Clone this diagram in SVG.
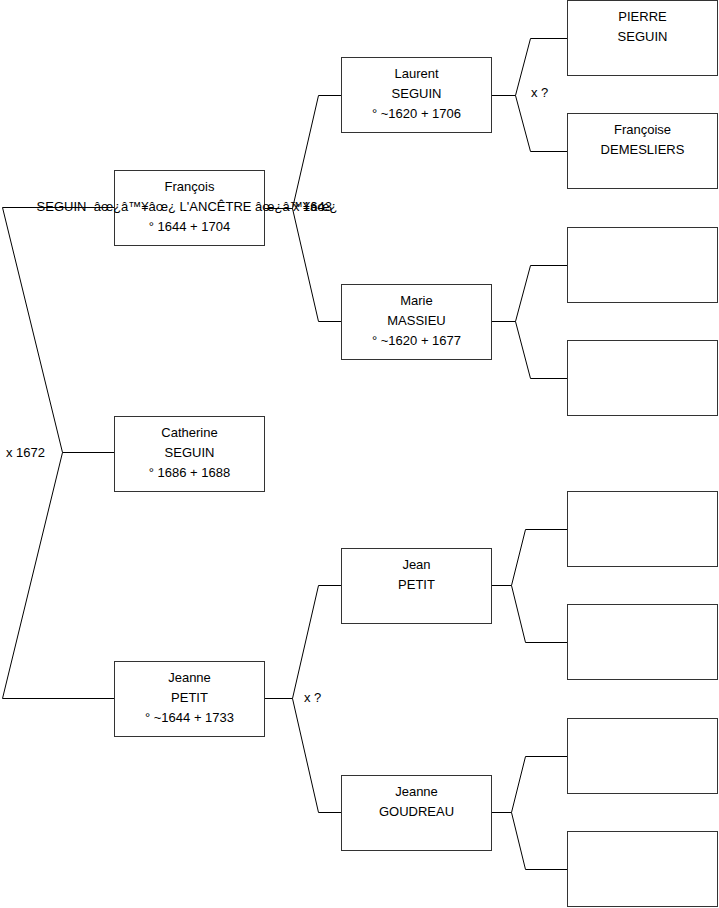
<svg xmlns="http://www.w3.org/2000/svg" width="719" height="908" viewBox="0 0 719 908">
<style>
.box{fill:#fff;stroke:#333;stroke-width:1}
.ln{fill:none;stroke:#000;stroke-width:1}
text{font-family:"Liberation Sans",Arial,sans-serif;font-size:13px;fill:#000;white-space:pre}
.c{text-anchor:middle}
</style>
<rect width="719" height="908" fill="#fff"/>
<g id="connectors">
<polyline class="ln" points="114,207.5 2.5,207.5 62.5,452.5 2.5,698.5 114,698.5"/>
<line class="ln" x1="62.5" y1="452.5" x2="114" y2="452.5"/>
<polyline class="ln" points="341,95.5 318.5,95.5 292.5,208.5 318.5,321.5 341,321.5"/>
<line class="ln" x1="265" y1="208.5" x2="292.5" y2="208.5"/>
<polyline class="ln" points="567,38.5 530.5,38.5 515.5,95.5 530.5,151.5 567,151.5"/>
<line class="ln" x1="491" y1="95.5" x2="515.5" y2="95.5"/>
<polyline class="ln" points="567,265.5 530.5,265.5 515.5,321.5 530.5,378.5 567,378.5"/>
<line class="ln" x1="491" y1="321.5" x2="515.5" y2="321.5"/>
<polyline class="ln" points="567,529.5 525.5,529.5 511.5,585.5 525.5,642.5 567,642.5"/>
<line class="ln" x1="491" y1="585.5" x2="511.5" y2="585.5"/>
<polyline class="ln" points="567,756.5 525.5,756.5 511.5,812.5 525.5,869.5 567,869.5"/>
<line class="ln" x1="491" y1="812.5" x2="511.5" y2="812.5"/>
<polyline class="ln" points="341,585.5 318.5,585.5 292.5,698.5 318.5,812.5 341,812.5"/>
<line class="ln" x1="265" y1="698.5" x2="292.5" y2="698.5"/>
</g>
<g id="labels">
<text x="6" y="457">x 1672</text>
<text x="293" y="211">x 1643</text>
<text x="531" y="97">x ?</text>
<text x="304" y="702">x ?</text>
</g>
<g id="francois">
<rect class="box" x="114.5" y="170.5" width="150" height="75"/>
<text class="c" x="189.5" y="191">François</text>
<text class="c" x="187" y="211" xml:space="preserve">SEGUIN  âœ¿â™¥âœ¿ L'ANCÊTRE âœ¿â™¥âœ¿</text>
<text class="c" x="189.5" y="231">° 1644 + 1704</text>
</g>
<g id="catherine">
<rect class="box" x="114.5" y="416.5" width="150" height="75"/>
<text class="c" x="189.5" y="437">Catherine</text>
<text class="c" x="189.5" y="457">SEGUIN</text>
<text class="c" x="189.5" y="477">° 1686 + 1688</text>
</g>
<g id="jeanne-petit">
<rect class="box" x="114.5" y="661.5" width="150" height="75"/>
<text class="c" x="189.5" y="682">Jeanne</text>
<text class="c" x="189.5" y="702">PETIT</text>
<text class="c" x="189.5" y="722">° ~1644 + 1733</text>
</g>
<g id="laurent">
<rect class="box" x="341.5" y="57.5" width="150" height="75"/>
<text class="c" x="416.5" y="78">Laurent</text>
<text class="c" x="416.5" y="98">SEGUIN</text>
<text class="c" x="416.5" y="118">° ~1620 + 1706</text>
</g>
<g id="marie">
<rect class="box" x="341.5" y="284.5" width="150" height="75"/>
<text class="c" x="416.5" y="305">Marie</text>
<text class="c" x="416.5" y="325">MASSIEU</text>
<text class="c" x="416.5" y="345">° ~1620 + 1677</text>
</g>
<g id="jean">
<rect class="box" x="341.5" y="548.5" width="150" height="75"/>
<text class="c" x="416.5" y="569">Jean</text>
<text class="c" x="416.5" y="589">PETIT</text>
</g>
<g id="jeanne-goudreau">
<rect class="box" x="341.5" y="775.5" width="150" height="75"/>
<text class="c" x="416.5" y="796">Jeanne</text>
<text class="c" x="416.5" y="816">GOUDREAU</text>
</g>
<g id="pierre">
<rect class="box" x="567.5" y="0.5" width="150" height="75"/>
<text class="c" x="642.5" y="21">PIERRE</text>
<text class="c" x="642.5" y="41">SEGUIN</text>
</g>
<g id="francoise">
<rect class="box" x="567.5" y="113.5" width="150" height="75"/>
<text class="c" x="642.5" y="134">Françoise</text>
<text class="c" x="642.5" y="154">DEMESLIERS</text>
</g>
<g id="empty1"><rect class="box" x="567.5" y="227.5" width="150" height="75"/></g>
<g id="empty2"><rect class="box" x="567.5" y="340.5" width="150" height="75"/></g>
<g id="empty3"><rect class="box" x="567.5" y="491.5" width="150" height="75"/></g>
<g id="empty4"><rect class="box" x="567.5" y="604.5" width="150" height="75"/></g>
<g id="empty5"><rect class="box" x="567.5" y="718.5" width="150" height="75"/></g>
<g id="empty6"><rect class="box" x="567.5" y="831.5" width="150" height="75"/></g>
</svg>
